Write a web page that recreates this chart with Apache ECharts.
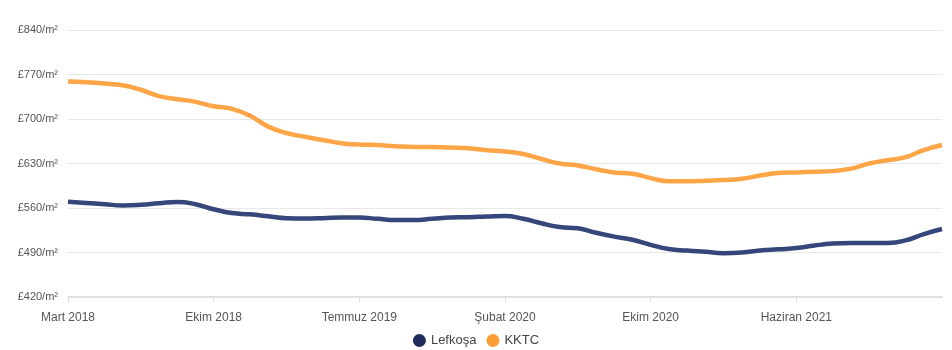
<!DOCTYPE html>
<html>
<head>
<meta charset="utf-8">
<script src="https://cdn.jsdelivr.net/npm/echarts@6/dist/echarts.min.js"></script>
<style>
    html, body { margin: 0; padding: 0; background: #fff; }
    #chart { width: 952px; height: 350px; }
</style>
</head>
<body>
<div id="chart"></div>
<script>
    // one point per step, a label every 8th step
    const tickLabels = ['Mart 2018', 'Ekim 2018', 'Temmuz 2019', 'Şubat 2020', 'Ekim 2020', 'Haziran 2021'];
    const categories = [];
    for (let i = 0; i < 49; i++) categories.push(String(i));

    const lefkosa = [570, 568, 566, 564, 565, 567.5, 569.5, 566, 558, 552,
        550, 547, 544, 543.5, 544, 545, 545, 543, 541, 541,
        543, 545, 545.5, 546.5, 547.5, 543, 536, 530, 528, 521,
        515, 510, 502, 495.5, 493, 491, 489, 490, 493, 495,
        497, 501, 504, 505, 505, 505, 509, 519, 527];

    const kktc = [759, 758, 756, 753, 746, 736, 731, 727, 720, 716,
        705, 688, 678, 672, 667, 662, 660, 659, 657, 656,
        656, 655, 654, 651, 649, 645, 637, 630, 627, 621,
        616, 614, 607, 602, 602, 603, 604, 606, 611, 615,
        616, 617, 618, 622, 630, 635, 640, 651, 659];

    const yTicks = { min: 420, max: 840, step: 70 };

    const showTick = idx => idx % 8 === 0 && idx < 48;

    const chart = echarts.init(document.getElementById('chart'));
    chart.setOption({
        animation: false,
        textStyle: { fontFamily: 'Liberation Sans, Arial, sans-serif' },
        grid: { left: 68, right: 10, top: 30, bottom: 53 },
        legend: {
            bottom: -2,
            left: 'center',
            icon: 'circle',
            itemWidth: 13,
            itemHeight: 13,
            itemGap: 10,
            textStyle: { color: '#444', fontSize: 13 },
            data: ['Lefkoşa', 'KKTC']
        },
        xAxis: {
            type: 'category',
            boundaryGap: false,
            data: categories,
            axisLine: { lineStyle: { color: '#e0e0e0', width: 2 } },
            axisTick: { show: true, interval: showTick, length: 6, lineStyle: { color: '#e0e0e0' } },
            axisLabel: {
                interval: showTick,
                color: '#555',
                fontSize: 12,
                margin: 15,
                formatter: (val, idx) => tickLabels[idx / 8] || ''
            },
            splitLine: { show: false }
        },
        yAxis: {
            type: 'value',
            min: yTicks.min,
            max: yTicks.max,
            interval: yTicks.step,
            axisLine: { show: false },
            axisTick: { show: false },
            axisLabel: {
                color: '#555',
                fontSize: 11,
                margin: 10,
                formatter: v => '£' + v + '/m²'
            },
            splitLine: { lineStyle: { color: '#e8e8e8', width: 1 } }
        },
        series: [
            {
                name: 'Lefkoşa',
                type: 'line',
                smooth: true,
                showSymbol: false,
                data: lefkosa,
                itemStyle: { color: '#1e2d5c' },
                lineStyle: { color: '#34467a', width: 4.5 }
            },
            {
                name: 'KKTC',
                type: 'line',
                smooth: true,
                showSymbol: false,
                data: kktc,
                itemStyle: { color: '#fd9e34' },
                lineStyle: { color: '#fda547', width: 4.5 }
            }
        ]
    });
</script>
</body>
</html>
